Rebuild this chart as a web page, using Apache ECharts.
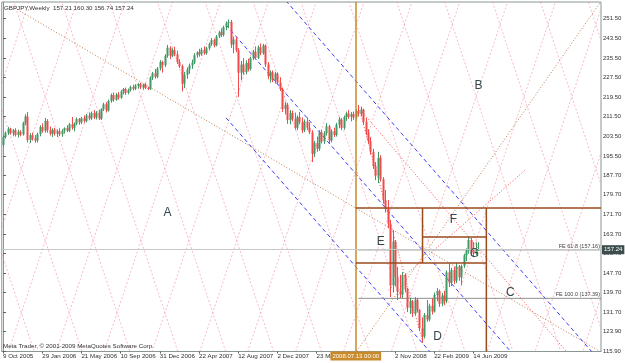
<!DOCTYPE html>
<html><head><meta charset="utf-8">
<script src="https://cdn.jsdelivr.net/npm/echarts@6/dist/echarts.min.js"></script>
<style>html,body{margin:0;padding:0;background:#fff}#c{width:625px;height:363px}</style>
</head><body><div id="c"></div>
<script>
// ---------- data ----------
const symbolTitle = 'GBPJPY,Weekly  157.21 160.30 156.74 157.24';
const copyright = 'Meta Trader, \u00a9 2001-2009 MetaQuotes Software Corp.';
const tickLabels = ['9 Oct 2005','29 Jan 2006','21 May 2006','10 Sep 2006','31 Dec 2006','22 Apr 2007','12 Aug 2007','2 Dec 2007','23 Mar 2008','2 Nov 2008','22 Feb 2009','14 Jun 2009'];
const tickBars = [0,16,32,48,64,80,96,112,128,160,176,192];
const priceTicks = [251.5,243.5,235.5,227.5,219.5,211.5,203.5,195.5,187.7,179.7,171.7,163.7,155.7,147.7,139.7,131.7,123.9,115.9];

const opens = [200.0,203.2,205.0,206.6,204.8,206.0,204.0,205.4,204.2,208.9,211.6,202.0,203.9,202.6,201.8,204.4,207.3,205.8,209.8,206.0,204.6,206.2,204.5,205.6,204.3,205.8,206.9,205.8,208.4,207.0,208.6,210.6,209.2,210.9,209.8,212.0,210.8,213.0,211.2,213.2,210.8,214.6,216.6,214.0,217.9,220.4,218.4,220.6,219.2,221.8,222.8,221.2,222.4,223.6,222.9,224.2,224.8,223.4,224.6,223.2,222.8,227.4,229.2,227.8,231.2,233.8,232.5,236.4,239.6,236.4,238.6,237.0,233.8,232.2,225.0,228.6,230.8,232.4,233.6,236.6,237.8,237.0,238.8,237.4,239.4,241.2,242.8,240.6,244.2,246.0,244.8,248.0,249.6,250.2,241.0,243.0,238.6,229.4,232.8,229.6,233.4,231.0,235.4,238.0,235.6,239.8,237.4,240.6,232.8,228.0,229.6,226.4,229.0,225.4,222.8,214.6,216.4,210.2,213.0,210.6,207.0,211.4,209.2,206.0,209.6,207.0,205.2,196.4,200.8,198.4,205.2,201.4,204.8,207.6,201.8,205.6,204.0,208.2,210.4,207.0,211.4,212.8,211.4,212.6,211.2,213.8,212.8,214.4,209.4,205.2,201.6,197.2,191.4,187.4,194.8,186.0,177.4,174.0,167.8,142.6,160.6,146.2,140.2,139.0,146.8,141.0,133.6,136.2,131.2,136.8,132.6,125.2,121.8,130.6,128.8,134.4,132.0,138.8,140.4,135.2,138.6,136.2,148.0,143.8,149.0,144.6,150.4,146.0,150.6,155.0,156.8,161.2,157.0,155.6,157.21];
const closes = [203.2,205.0,206.6,204.8,206.0,204.0,205.4,204.2,208.9,211.6,202.0,203.9,202.6,201.8,204.4,207.3,205.8,209.8,206.0,204.6,206.2,204.5,205.6,204.3,205.8,206.9,205.8,208.4,207.0,208.6,210.6,209.2,210.9,209.8,212.0,210.8,213.0,211.2,213.2,210.8,214.6,216.6,214.0,217.9,220.4,218.4,220.6,219.2,221.8,222.8,221.2,222.4,223.6,222.9,224.2,224.8,223.4,224.6,223.2,222.8,227.4,229.2,227.8,231.2,233.8,232.5,236.4,239.6,236.4,238.6,237.0,233.8,232.2,225.0,228.6,230.8,232.4,233.6,236.6,237.8,237.0,238.8,237.4,239.4,241.2,242.8,240.6,244.2,246.0,244.8,248.0,249.6,250.2,241.0,243.0,238.6,229.4,232.8,229.6,233.4,231.0,235.4,238.0,235.6,239.8,237.4,240.6,232.8,228.0,229.6,226.4,229.0,225.4,222.8,214.6,216.4,210.2,213.0,210.6,207.0,211.4,209.2,206.0,209.6,207.0,205.2,196.4,200.8,198.4,205.2,201.4,204.8,207.6,201.8,205.6,204.0,208.2,210.4,207.0,211.4,212.8,211.4,212.6,211.2,213.8,212.8,214.4,209.4,205.2,201.6,197.2,191.4,187.4,194.8,186.0,177.4,174.0,167.8,142.6,160.6,146.2,140.2,139.0,146.8,141.0,133.6,136.2,131.2,136.8,132.6,125.2,121.8,130.6,128.8,134.4,132.0,138.8,140.4,135.2,138.6,136.2,148.0,143.8,149.0,144.6,150.4,146.0,150.6,155.0,156.8,161.2,157.0,155.6,157.2,157.24];
const highs = [204.0,205.5,207.3,207.0,206.5,206.8,206.2,206.0,209.5,212.5,213.4,204.8,205.0,204.0,205.0,208.0,208.8,211.0,210.5,207.5,206.8,207.0,206.3,206.8,206.4,207.2,208.0,209.0,211.4,209.2,211.2,211.0,211.5,212.0,212.6,213.2,213.6,214.2,213.8,214.4,215.0,217.2,217.4,218.5,221.0,221.4,221.2,221.6,222.4,223.2,223.4,223.0,224.2,224.6,224.8,225.3,225.4,225.0,225.2,223.8,228.0,229.8,231.0,231.8,234.6,234.4,237.0,240.8,240.2,239.4,240.0,238.4,235.0,232.8,229.8,231.6,233.2,234.8,237.4,238.2,239.2,239.6,240.2,240.0,241.8,243.6,243.4,244.8,246.6,247.6,248.6,250.4,251.2,251.0,244.2,244.0,239.5,234.2,235.4,234.6,235.2,236.0,238.8,240.2,240.6,241.4,241.2,241.0,233.8,230.4,230.4,229.8,229.6,227.6,223.4,217.6,217.2,214.2,214.0,213.2,212.0,213.4,211.2,210.4,211.2,209.2,206.0,201.6,203.4,206.0,206.2,205.6,208.9,208.2,206.4,207.0,209.0,211.4,211.0,212.0,213.6,214.2,213.4,213.6,214.6,216.3,215.6,214.8,211.0,206.4,203.2,198.4,193.0,197.2,195.8,186.8,181.6,177.5,169.4,165.2,161.2,150.2,147.0,148.1,147.6,141.6,137.6,136.7,137.9,137.4,133.0,129.6,131.4,136.7,135.2,137.5,139.8,141.6,141.0,139.6,140.4,148.8,151.8,149.8,150.2,151.8,151.0,151.2,155.6,157.8,162.4,162.0,160.4,160.2,160.3];
const lows = [199.1,202.6,204.0,204.2,203.5,203.4,203.0,203.5,203.8,208.0,201.0,200.8,201.8,200.9,201.0,203.5,205.0,205.0,205.0,203.8,203.2,203.8,203.2,203.6,203.3,204.6,205.2,205.2,206.2,205.5,208.0,208.2,208.5,209.0,209.2,210.0,210.2,210.5,210.4,210.2,210.2,213.8,213.2,213.6,217.2,217.6,218.0,218.5,218.8,220.6,220.4,220.6,221.8,222.2,222.4,223.0,222.8,222.6,222.8,222.4,222.4,226.5,227.0,227.2,230.4,229.5,231.8,235.6,235.0,235.8,236.2,233.0,231.4,221.8,223.2,227.0,229.0,231.0,233.0,235.6,236.0,236.4,236.8,236.8,238.6,240.4,239.8,240.2,243.6,244.0,244.2,246.8,247.6,239.6,237.4,237.8,219.6,226.4,228.6,228.8,230.0,230.4,234.6,234.8,235.0,236.6,236.8,231.8,226.8,225.4,225.6,225.0,224.6,222.0,213.4,212.4,208.6,208.4,209.6,206.2,206.0,208.4,204.8,205.2,206.0,204.4,193.0,195.0,197.2,197.6,200.6,200.4,203.8,200.8,201.0,203.2,203.4,206.8,206.0,206.2,209.8,210.6,209.6,210.2,209.8,211.6,211.8,208.2,204.0,200.4,196.0,190.2,185.6,184.4,185.0,176.0,172.4,166.0,137.9,139.8,142.4,136.7,137.5,137.4,139.8,131.8,131.0,129.8,130.4,131.6,124.0,119.2,121.0,127.8,128.0,130.8,131.6,136.2,133.9,134.2,134.6,135.4,142.0,142.4,143.2,143.6,144.6,142.8,149.8,152.6,155.6,155.4,154.2,155.0,156.74];

// drawing objects (bar index, price)
const markerBar = 144;               // vertical line 2008.07.13
const markerText = '2008.07.13 00:00';
const bidPrice = 157.24;
const feLevels = [157.16, 137.39];
const feNames = ['FE 61.8 (157.16)', 'FE 100.0 (137.39)'];
const feStartBar = 145;
const boxLevels = [174.25, 162.42, 151.81];
const boxBars = [144, 171.25, 197.3];
const channelStart = [91.07, 248.93];  // blue channel: median start
const channelWidth = 37.9;
const channelSlope = -1.147;           // price per bar
const trendA = [[4.79, 255.87], [244.1, 115.49]];   // brown dotted
const trendB = [[144.4, 115.9], [244.1, 258.6]];    // brown dotted rising
const redLines = [[[145.2, 215.5], [171.1, 120.4]], [[146.0, 214.2], [244.1, 99.1]], [[157.4, 140.8], [213.2, 189.8]]];
const gannAnchor = [232.2, 219.67];
const gannStep = 19.54;
const gannSlope = 3.008;
const letters = ['A','B','C','D','E','F','G'];
const letterBars = [67.1, 194.1, 207.1, 177.4, 154.2, 183.9, 192.4];
const letterPrices = [172.2, 224.0, 139.6, 121.6, 160.4, 169.4, 155.5];

// ---------- chart ----------
const XMIN = -0.5, XMAX = 244.1, YMIN = 115.7, YMAX = 258.31;
const FONT = '"Liberation Sans", Arial, sans-serif';
const chart = echarts.init(document.getElementById('c'), null, {renderer: 'canvas'});

function segSeries(segs, style, z) {
  return {
    type: 'custom', coordinateSystem: 'cartesian2d', clip: true, silent: true, z: z || 2,
    data: segs, encode: {x: [0, 2], y: [1, 3]},
    renderItem: function (params, api) {
      const a = api.coord([api.value(0), api.value(1)]);
      const b = api.coord([api.value(2), api.value(3)]);
      return {type: 'line', shape: {x1: a[0], y1: a[1], x2: b[0], y2: b[1]},
        style: Object.assign({fill: null}, style)};
    }
  };
}

// gann grid lines
const gannSegs = [];
for (let k = -25; k <= 25; k++) {
  const c = gannAnchor[0] + k * gannStep;
  gannSegs.push([XMIN, gannAnchor[1] - gannSlope * (XMIN - c), XMAX, gannAnchor[1] - gannSlope * (XMAX - c)]);
  gannSegs.push([XMIN, gannAnchor[1] + gannSlope * (XMIN - c), XMAX, gannAnchor[1] + gannSlope * (XMAX - c)]);
}
// channel lines
const chanSegs = [-1, 0, 1].map(function (m) {
  const p0 = channelStart[1] - m * channelWidth;
  return [channelStart[0], p0, XMAX, p0 + channelSlope * (XMAX - channelStart[0])];
});
const boxSegs = [
  [boxBars[0], boxLevels[0], XMAX, boxLevels[0]],
  [boxBars[1], boxLevels[1], boxBars[2], boxLevels[1]],
  [boxBars[0], boxLevels[2], boxBars[2], boxLevels[2]],
  [boxBars[1], boxLevels[0], boxBars[1], boxLevels[2]],
  [boxBars[2], boxLevels[0], boxBars[2], YMIN - 5]
];
const feSegs = feLevels.map(function (v) { return [feStartBar, v, XMAX, v]; });

const candleData = opens.map(function (o, i) { return [i, o, closes[i], lows[i], highs[i]]; });

chart.setOption({
  animation: false,
  backgroundColor: '#ffffff',
  textStyle: {fontFamily: FONT},
  title: [
    {text: symbolTitle, left: 4, top: 5, padding: 0, textStyle: {fontSize: 6.2, fontWeight: 'normal', color: '#303030', fontFamily: FONT}},
    {text: copyright, left: 3, top: 343, padding: 0, textStyle: {fontSize: 6.2, fontWeight: 'normal', color: '#303030', fontFamily: FONT}}
  ],
  grid: {left: 0, right: 24, top: 2, bottom: 11.5, show: true, borderColor: '#8a9696', borderWidth: 1, backgroundColor: 'transparent'},
  xAxis: {
    type: 'value', min: XMIN, max: XMAX, splitLine: {show: false},
    axisLine: {show: true, lineStyle: {color: '#8a9696'}},
    axisTick: {show: true, customValues: tickBars, length: 2, lineStyle: {color: '#606060'}},
    axisLabel: {customValues: tickBars, hideOverlap: false, showMaxLabel: true, showMinLabel: true, align: 'left', margin: 2, fontSize: 6.2, color: '#303030', fontFamily: FONT,
      formatter: function (v) { const j = tickBars.indexOf(Math.round(v)); return j >= 0 ? tickLabels[j] : ''; }}
  },
  yAxis: {
    type: 'value', position: 'right', min: YMIN, max: YMAX, splitLine: {show: false},
    axisLine: {show: true, lineStyle: {color: '#8a9696'}},
    axisTick: {show: true, customValues: priceTicks, length: 3, lineStyle: {color: '#606060'}},
    axisLabel: {customValues: priceTicks, hideOverlap: false, showMaxLabel: true, showMinLabel: true, margin: 2, fontSize: 6, color: '#303030', fontFamily: FONT,
      formatter: function (v) { return v.toFixed(2); }}
  },
  series: [
    segSeries(gannSegs, {stroke: 'rgba(240,130,150,0.55)', lineWidth: 1, lineDash: [2, 2]}, 1),
    segSeries([trendA[0].concat(trendA[1]), trendB[0].concat(trendB[1])], {stroke: '#c07a4e', lineWidth: 1, lineDash: [1, 2]}, 2),
    segSeries(redLines.map(function (s) { return s[0].concat(s[1]); }), {stroke: '#ff4a4a', lineWidth: 1, lineDash: [1, 2]}, 2),
    segSeries(chanSegs, {stroke: '#3c3cff', lineWidth: 1, lineDash: [4, 3]}, 3),
    segSeries(feSegs, {stroke: '#909090', lineWidth: 1}, 3),
    {
      type: 'custom', coordinateSystem: 'cartesian2d', clip: true, silent: true, z: 4,
      data: candleData, encode: {x: 0, y: [1, 2, 3, 4]},
      renderItem: function (params, api) {
        const i = api.value(0), o = api.value(1), c = api.value(2), l = api.value(3), h = api.value(4);
        const pl = api.coord([i, l]), ph = api.coord([i, h]), po = api.coord([i, o]), pc = api.coord([i, c]);
        const col = c >= o ? '#3f9a66' : '#f24a4a';
        const x = Math.round(pl[0]) + 0.5;
        const top = Math.min(po[1], pc[1]);
        return {type: 'group', children: [
          {type: 'line', shape: {x1: x, y1: ph[1], x2: x, y2: pl[1]}, style: {stroke: col, lineWidth: 1}},
          {type: 'rect', shape: {x: x - 1, y: top, width: 2, height: Math.max(1, Math.abs(po[1] - pc[1]))}, style: {fill: col}}
        ]};
      }
    },
    segSeries(boxSegs, {stroke: '#9a4a1c', lineWidth: 1.5}, 5),
    {
      type: 'line', data: [], z: 6, silent: true,
      markLine: {
        symbol: 'none', silent: true, animation: false,
        data: [
          {xAxis: markerBar, lineStyle: {color: '#c98a2b', width: 1.5, type: 'solid'},
            label: {show: true, position: 'start', formatter: markerText, distance: 0, fontSize: 6, color: '#ffffff',
              backgroundColor: '#c98a2b', padding: [2, 2, 1, 2], fontFamily: FONT}},
          {yAxis: bidPrice, lineStyle: {color: '#c4c8c8', width: 1, type: 'solid'},
            label: {show: true, position: 'end', formatter: bidPrice.toFixed(2), distance: 1, fontSize: 6, color: '#ffffff',
              backgroundColor: '#3d4d4d', padding: [2, 2, 1, 2], fontFamily: FONT}}
        ]
      }
    },
    {
      type: 'custom', coordinateSystem: 'cartesian2d', clip: false, silent: true, z: 7,
      data: feLevels.map(function (v, i) { return [XMAX, v, i]; }), encode: {x: 0, y: 1},
      renderItem: function (params, api) {
        const p = api.coord([api.value(0), api.value(1)]);
        return {type: 'text', x: p[0] - 1, y: p[1] - 0.5,
          style: {text: feNames[api.value(2)], align: 'right', verticalAlign: 'bottom', fontSize: 5.5, fill: '#404040', fontFamily: FONT}};
      }
    },
    {
      type: 'custom', coordinateSystem: 'cartesian2d', clip: false, silent: true, z: 7,
      data: letters.map(function (t, i) { return [letterBars[i], letterPrices[i], i]; }), encode: {x: 0, y: 1},
      renderItem: function (params, api) {
        const p = api.coord([api.value(0), api.value(1)]);
        return {type: 'text', x: p[0], y: p[1],
          style: {text: letters[api.value(2)], align: 'center', verticalAlign: 'middle', fontSize: 12, fill: '#34484c', fontFamily: '"Liberation Sans", Arial, sans-serif'}};
      }
    }
  ]
});
</script>
</body></html>
